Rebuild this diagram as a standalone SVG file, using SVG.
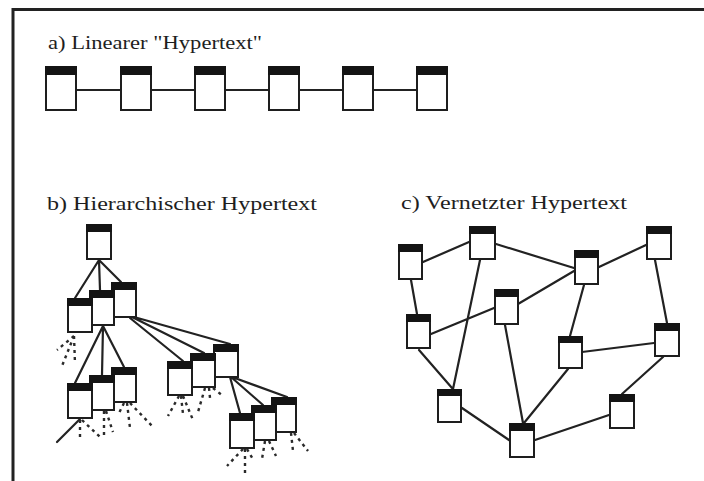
<svg xmlns="http://www.w3.org/2000/svg" width="704" height="481" viewBox="0 0 704 481">
<style>
.body{fill:#fff;stroke:#1e1e1e;stroke-width:2}
.hdr{fill:#141414}
.edge{stroke:#222;stroke-width:2.2;fill:none;stroke-linecap:round}
.stub{stroke:#2a2a2a;stroke-width:2.4;fill:none;stroke-dasharray:3 4}
.frame{stroke:#222;stroke-width:3;fill:none}
.lbl{font-family:"Liberation Serif","Times New Roman",serif;font-size:18px;fill:#1e1e1e}
</style>
<rect width="704" height="481" fill="#fff"/>
<path class="frame" d="M13,481 V9.5 H704"/>
<text class="lbl" x="48" y="49" textLength="214" lengthAdjust="spacingAndGlyphs">a) Linearer "Hypertext"</text>
<text class="lbl" x="47" y="210" textLength="270" lengthAdjust="spacingAndGlyphs">b) Hierarchischer Hypertext</text>
<text class="lbl" x="401" y="209" textLength="226" lengthAdjust="spacingAndGlyphs">c) Vernetzter Hypertext</text>
<g id="connectors">
<path class="edge" d="M77,90H120M152,90H194M226,90H268M300,90H342M374,90H416"/>
<path class="edge" d="M99,260L75,298M99,260L100,290M99,260L121,282"/>
<path class="edge" d="M103,326L75,383M103,326L102,375M103,326L124,367"/>
<path class="edge" d="M130,318L183,361M132,317L204,353M134,317L230,344"/>
<path class="edge" d="M230,377L240,413M231,377L263,405M232,377L287,397"/>
<path class="edge" d="M80,419L57,442"/>
<path class="stub" d="M74,336L57,350M74,336L62,366M74,336L75,364"/>
<path class="stub" d="M80,420L80,437M82,420L100,437"/>
<path class="stub" d="M104,411L104,436M106,411L113,432"/>
<path class="stub" d="M124,403L119,413M127,403L130,428M130,403L154,428"/>
<path class="stub" d="M179,396L168,416M181,396L183,414M183,396L193,420"/>
<path class="stub" d="M205,388L198,412M209,388L210,398M213,388L223,396"/>
<path class="stub" d="M291,433L293,451M294,433L308,451"/>
<path class="stub" d="M265,441L262,459M269,441L276,456"/>
<path class="stub" d="M243,449L227,466M245,449L245,473M247,449L254,461"/>
<path class="edge" d="M423,262L469,242M496,244L574,268M599,267L646,245M411,280L417,314M480,260L453,389M431,334L494,308M518,304L574,271M419,350L452,388M505,325L523,423M584,285L570,336M655,260L667,323M582,352L654,343M568,369L524,423M462,408L509,440M663,357L622,394M535,440L609,415"/>
</g>
<g id="a1"><rect class="body" x="46" y="67" width="30" height="43"/><rect class="hdr" x="45" y="66" width="32" height="9"/></g>
<g id="a2"><rect class="body" x="121" y="67" width="30" height="43"/><rect class="hdr" x="120" y="66" width="32" height="9"/></g>
<g id="a3"><rect class="body" x="195" y="67" width="30" height="43"/><rect class="hdr" x="194" y="66" width="32" height="9"/></g>
<g id="a4"><rect class="body" x="269" y="67" width="30" height="43"/><rect class="hdr" x="268" y="66" width="32" height="9"/></g>
<g id="a5"><rect class="body" x="343" y="67" width="30" height="43"/><rect class="hdr" x="342" y="66" width="32" height="9"/></g>
<g id="a6"><rect class="body" x="417" y="67" width="30" height="43"/><rect class="hdr" x="416" y="66" width="32" height="9"/></g>
<g id="b-root"><rect class="body" x="87" y="225" width="24" height="34"/><rect class="hdr" x="86" y="224" width="26" height="8"/></g>
<g id="b-c"><rect class="body" x="112" y="283" width="24" height="34"/><rect class="hdr" x="111" y="282" width="26" height="8"/></g>
<g id="b-b"><rect class="body" x="90" y="291" width="24" height="34"/><rect class="hdr" x="89" y="290" width="26" height="8"/></g>
<g id="b-a"><rect class="body" x="68" y="299" width="24" height="33"/><rect class="hdr" x="67" y="298" width="26" height="8"/></g>
<g id="b-f"><rect class="body" x="112" y="368" width="24" height="34"/><rect class="hdr" x="111" y="367" width="26" height="8"/></g>
<g id="b-e"><rect class="body" x="90" y="376" width="24" height="34"/><rect class="hdr" x="89" y="375" width="26" height="8"/></g>
<g id="b-d"><rect class="body" x="68" y="384" width="24" height="34"/><rect class="hdr" x="67" y="383" width="26" height="8"/></g>
<g id="b-i"><rect class="body" x="214" y="345" width="24" height="32"/><rect class="hdr" x="213" y="344" width="26" height="8"/></g>
<g id="b-h"><rect class="body" x="191" y="354" width="24" height="33"/><rect class="hdr" x="190" y="353" width="26" height="8"/></g>
<g id="b-g"><rect class="body" x="168" y="362" width="24" height="33"/><rect class="hdr" x="167" y="361" width="26" height="8"/></g>
<g id="b-l"><rect class="body" x="272" y="398" width="24" height="34"/><rect class="hdr" x="271" y="397" width="26" height="8"/></g>
<g id="b-k"><rect class="body" x="252" y="406" width="24" height="34"/><rect class="hdr" x="251" y="405" width="26" height="8"/></g>
<g id="b-j"><rect class="body" x="230" y="414" width="24" height="34"/><rect class="hdr" x="229" y="413" width="26" height="8"/></g>
<g id="c1"><rect class="body" x="399" y="245" width="23" height="34"/><rect class="hdr" x="398" y="244" width="25" height="8"/></g>
<g id="c2"><rect class="body" x="470" y="227" width="25" height="32"/><rect class="hdr" x="469" y="226" width="27" height="8"/></g>
<g id="c3"><rect class="body" x="495" y="290" width="23" height="34"/><rect class="hdr" x="494" y="289" width="25" height="8"/></g>
<g id="c4"><rect class="body" x="407" y="315" width="23" height="33"/><rect class="hdr" x="406" y="314" width="25" height="8"/></g>
<g id="c5"><rect class="body" x="575" y="251" width="23" height="33"/><rect class="hdr" x="574" y="250" width="25" height="8"/></g>
<g id="c6"><rect class="body" x="647" y="227" width="24" height="32"/><rect class="hdr" x="646" y="226" width="26" height="8"/></g>
<g id="c7"><rect class="body" x="559" y="337" width="23" height="31"/><rect class="hdr" x="558" y="336" width="25" height="7"/></g>
<g id="c8"><rect class="body" x="655" y="324" width="24" height="32"/><rect class="hdr" x="654" y="323" width="26" height="8"/></g>
<g id="c9"><rect class="body" x="438" y="390" width="23" height="32"/><rect class="hdr" x="437" y="389" width="25" height="7"/></g>
<g id="c10"><rect class="body" x="510" y="424" width="24" height="33"/><rect class="hdr" x="509" y="423" width="26" height="8"/></g>
<g id="c11"><rect class="body" x="610" y="395" width="24" height="33"/><rect class="hdr" x="609" y="394" width="26" height="8"/></g>
</svg>
